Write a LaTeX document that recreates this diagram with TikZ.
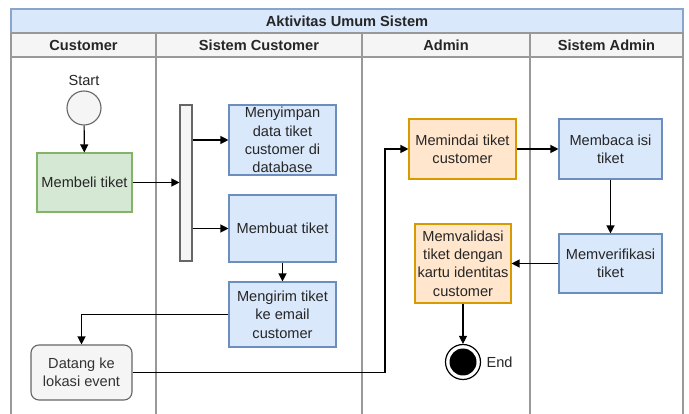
\documentclass[tikz,border=0pt]{standalone}
\usepackage{fontspec}
\setmainfont{Liberation Sans}
\usetikzlibrary{arrows.meta,calc}
\definecolor{bluefill}{HTML}{DAE8FC}
\definecolor{bluedraw}{HTML}{6C8EBF}
\definecolor{greenfill}{HTML}{D5E8D4}
\definecolor{greendraw}{HTML}{82B366}
\definecolor{orangefill}{HTML}{FFE6CC}
\definecolor{orangedraw}{HTML}{D79B00}
\definecolor{grayfill}{HTML}{F5F5F5}
\definecolor{graydraw}{HTML}{666666}
\definecolor{lanegray}{HTML}{999999}
\definecolor{textgray}{HTML}{333333}
\tikzset{
  x=1pt, y=-1pt,
  font=\fontsize{14.6}{18.4}\selectfont,
  act/.style={draw, line width=1.1pt, align=center, inner sep=2pt, text=black!85},
  bluebox/.style={act, fill=bluefill, draw=bluedraw},
  greenbox/.style={act, fill=greenfill, draw=greendraw},
  orangebox/.style={act, fill=orangefill, draw=orangedraw},
  graybox/.style={act, fill=grayfill, draw=graydraw, rounded corners=8pt, text=textgray},
  flow/.style={-{Triangle[length=8pt,width=8pt]}, line width=1.2pt, black},
  lane/.style={draw=lanegray, line width=1.2pt},
  hdr/.style={font=\fontsize{14.6}{18}\selectfont\bfseries, text=black!85},
}
\begin{document}
\begin{tikzpicture}
\useasboundingbox (0,0) rectangle (689,414);
% pool title and lane headers
\fill[white] (0,0) rectangle (689,414);
\path[fill=bluefill, draw=bluedraw!80, line width=1.2pt] (11,9) rectangle (683,33);
\node[hdr] (title) at (347,21) {Aktivitas Umum Sistem};
\path[fill=grayfill, draw=lanegray, line width=1.2pt] (11,33) rectangle (683,57);
\node[hdr] (hcust) at (83.5,45) {Customer};
\node[hdr] (hsyscust) at (259,45) {Sistem Customer};
\node[hdr] (hadmin) at (446,45) {Admin};
\node[hdr] (hsysadmin) at (606.5,45) {Sistem Admin};
% lane separators
\draw[lane] (11,33) -- (11,414);
\draw[lane] (156,33) -- (156,414);
\draw[lane] (362,33) -- (362,414);
\draw[lane] (530,33) -- (530,414);
\draw[lane] (683,33) -- (683,414);

% start
\node[circle, draw=graydraw, fill=grayfill, line width=1.1pt, minimum size=34pt, inner sep=0pt] (start) at (84,108) {};
\node[text=black!85] (startlbl) at (84,80) {Start};

% customer lane
\node[greenbox, minimum width=95pt, minimum height=59pt] (beli) at (84.5,182.5) {Membeli tiket};
\node[graybox, minimum width=101pt, minimum height=55pt] (datang) at (81.5,372.5) {Datang ke\\lokasi event};

% fork bar
\node[draw=graydraw, fill=grayfill, line width=1.1pt, minimum width=12pt, minimum height=156pt, inner sep=0pt] (bar) at (186,183) {};

% system customer lane
\node[bluebox, minimum width=107pt, minimum height=70pt] (simpan) at (282.5,140) {Menyimpan\\data tiket\\customer di\\database};
\node[bluebox, minimum width=107pt, minimum height=67pt] (buat) at (282.5,228.5) {Membuat tiket};
\node[bluebox, minimum width=107pt, minimum height=65pt] (kirim) at (282.5,314.5) {Mengirim tiket\\ke email\\customer};

% admin lane
\node[orangebox, minimum width=107pt, minimum height=60pt] (pindai) at (462.5,149) {Memindai tiket\\customer};
\node[orangebox, minimum width=96pt, minimum height=79pt] (validasi) at (463,263.5) {Memvalidasi\\tiket dengan\\kartu identitas\\customer};

% end
\node[circle, draw=black, line width=1.2pt, fill=white, minimum size=35pt, inner sep=0pt] (end) at (463,362) {};
\node[circle, fill=black, minimum size=27pt, inner sep=0pt] (endcore) at (end.center) {};
\node[text=black!85, anchor=west] (endlbl) at (483,362) {End};

% system admin lane
\node[bluebox, minimum width=103pt, minimum height=60pt] (baca) at (610.5,149) {Membaca isi\\tiket};
\node[bluebox, minimum width=103pt, minimum height=59pt] (verif) at (610.5,263.5) {Memverifikasi\\tiket};

% flows
\draw[flow] (start) -- (beli);
\draw[flow] (beli) -- (beli -| bar.west);
\draw[flow] (simpan -| bar.east) -- (simpan);
\draw[flow] (buat -| bar.east) -- (buat);
\draw[flow] (buat) -- (kirim);
\draw[flow] (kirim.west) -| (datang.north);
\coordinate (bend) at (385,0);
\draw[flow] (datang.east) -- (datang.east -| bend) |- (pindai.west);
\draw[flow] (pindai) -- (baca);
\draw[flow] (baca) -- (verif);
\draw[flow] (verif) -- (validasi);
\draw[flow] (validasi) -- (end);
\end{tikzpicture}
\end{document}
